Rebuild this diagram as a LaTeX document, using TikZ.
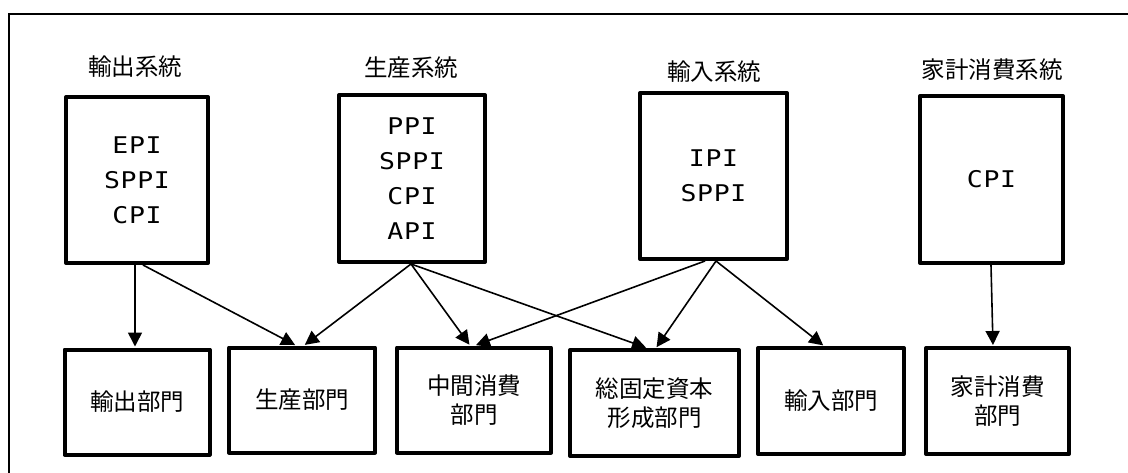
\documentclass[tikz,border=0pt]{standalone}
\usepackage{fontspec}
\setmainfont{Noto Sans CJK JP}
\newfontfamily\latfont{DejaVu Sans Mono}[FakeStretch=1.15, LetterSpace=3]
\usetikzlibrary{arrows.meta}
\begin{document}
\begin{tikzpicture}[x=1pt,y=-1pt,
  box/.style={draw, line width=4pt, line join=round, inner sep=0pt, align=center},
  topbox/.style={box, font=\latfont\fontsize{23}{35}\selectfont},
  botbox/.style={box, font=\fontsize{23.5}{29}\selectfont},
  ttl/.style={font=\fontsize{23.5}{28}\selectfont, inner sep=0pt},
  arr/.style={line width=1.6pt, -{Triangle[length=14pt,width=14pt]}, shorten >=1pt},
 ]
\useasboundingbox (0,0) rectangle (1128,473);
\clip (0,0) rectangle (1128,473);
\draw[line width=2pt] (9,600) -- (9,14) -- (1200,14);

% titles
\node[ttl] (h1) at (135,67) {輸出系統};
\node[ttl] (h2) at (411,68) {生産系統};
\node[ttl] (h3) at (714,72) {輸入系統};
\node[ttl] (h4) at (992,70) {家計消費系統};

% top boxes
\node[topbox, minimum width=142, minimum height=166] (t1) at (137,180) {EPI\\SPPI\\CPI};
\node[topbox, minimum width=146, minimum height=167] (t2) at (412,178.5) {PPI\\SPPI\\CPI\\API};
\node[topbox, minimum width=147, minimum height=166] (t3) at (713.5,176) {IPI\\SPPI};
\node[topbox, minimum width=143, minimum height=167] (t4) at (991.5,179.5) {CPI};

% bottom boxes
\node[botbox, minimum width=145, minimum height=105] (b1) at (137,402) {輸出部門};
\node[botbox, minimum width=146, minimum height=105] (b2) at (302,400) {生産部門};
\node[botbox, minimum width=154, minimum height=105] (b3) at (474,400) {中間消費\\部門};
\node[botbox, minimum width=169, minimum height=106] (b4) at (654.5,403) {総固定資本\\形成部門};
\node[botbox, minimum width=146, minimum height=106] (b5) at (831,401) {輸入部門};
\node[botbox, minimum width=143, minimum height=106] (b6) at (997.5,401) {家計消費\\部門};

% connectors
\draw[arr] ([xshift=-2]t1.south) -- ([xshift=-2]b1.north);
\draw[arr] ([xshift=6]t1.south) -- ([xshift=-6]b2.north);
\draw[arr] ([xshift=-1]t2.south) -- ([xshift=2]b2.north);
\draw[arr] ([xshift=-1]t2.south) -- ([xshift=-4]b3.north);
\draw[arr] ([xshift=-1]t2.south) -- ([xshift=-7.5]b4.north);
\draw[arr] ([xshift=-8.5]t3.south) -- ([xshift=1]b3.north);
\draw[arr] ([xshift=2.5]t3.south) -- ([xshift=1.5]b4.north);
\draw[arr] ([xshift=2.5]t3.south) -- ([xshift=-7]b5.north);
\draw[arr] ([xshift=-0.5]t4.south) -- ([xshift=-4.5]b6.north);
\end{tikzpicture}
\end{document}
